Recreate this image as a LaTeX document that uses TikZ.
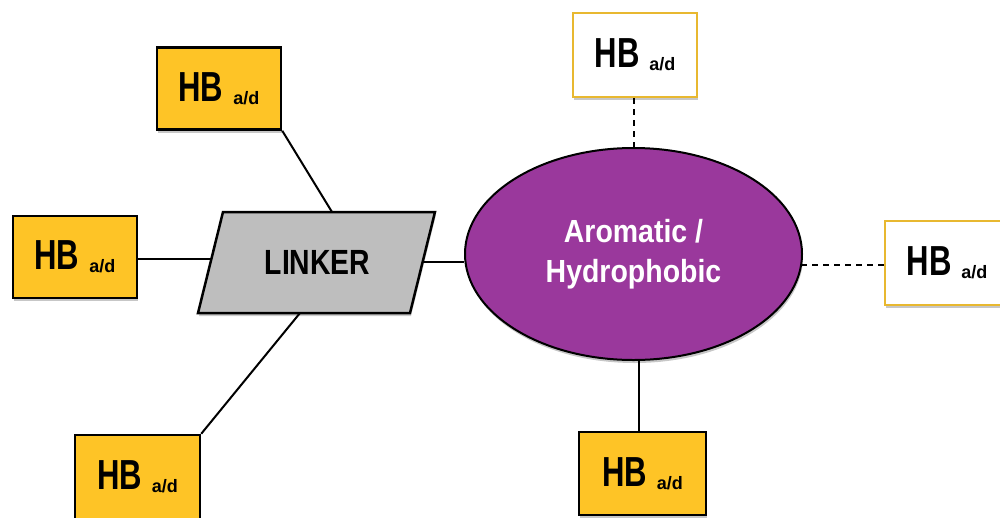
\documentclass[tikz,border=0pt]{standalone}
\usepackage{fontspec}
\setmainfont{Liberation Sans}
\usepackage{graphicx}
\usetikzlibrary{shapes.geometric,shadows}
\definecolor{hbyellow}{RGB}{254,196,38}
\definecolor{hbgold}{RGB}{232,184,48}
\definecolor{arompurple}{RGB}{154,56,156}
\definecolor{linkgray}{RGB}{190,190,190}
\newcommand{\hbtext}{\scalebox{0.74}[1]{\fontsize{42}{42}\selectfont\bfseries HB}\hspace{10pt}\raisebox{-3pt}{\fontsize{18}{18}\selectfont\bfseries a/d}}
\tikzset{
  softshadow/.style={drop shadow={shadow xshift=1pt, shadow yshift=-3pt, opacity=0.22, fill=black}},
  hbbox/.style={rectangle, draw=black, fill=hbyellow, line width=2.5pt, minimum width=124pt, minimum height=82pt, inner sep=0pt, softshadow},
  hbwhite/.style={rectangle, draw=hbgold, fill=white, line width=2.5pt, minimum width=124pt, minimum height=84pt, inner sep=0pt, softshadow},
  conn/.style={line width=2pt, black},
  dconn/.style={line width=2pt, black, dash pattern=on 6pt off 5pt},
}
\begin{document}
\begin{tikzpicture}[x=1pt,y=-1pt]
\useasboundingbox (0,0) rectangle (1000,517);
% linker parallelogram
\coordinate (l1) at (223,212);
\coordinate (l2) at (435,212);
\coordinate (l3) at (410,313);
\coordinate (l4) at (198,313);
\fill[black, opacity=0.2] ([xshift=1pt,yshift=-3pt]l1) -- ([xshift=1pt,yshift=-3pt]l2) -- ([xshift=1pt,yshift=-3pt]l3) -- ([xshift=1pt,yshift=-3pt]l4) -- cycle;
\draw[fill=linkgray, line width=2.5pt, line join=miter] (l1) -- (l2) -- (l3) -- (l4) -- cycle;
\node (linker) at (317.5,262) {\scalebox{0.81}[1]{\fontsize{35}{35}\selectfont\bfseries LINKER}};
\coordinate (c1) at (332,212);
\coordinate (c2) at (211,259);
\coordinate (c3) at (300,313);
\coordinate (c4) at (423,262);
% ellipse
\node[ellipse, draw=black, fill=arompurple, line width=2pt, minimum width=337pt, minimum height=212pt, inner sep=0pt, softshadow, text=white, align=center, font=\fontsize{32}{40}\selectfont\bfseries] (ell) at (633.5,254)
  {\scalebox{0.89}[1]{Aromatic /}\\\scalebox{0.89}[1]{Hydrophobic}};
\coordinate (c5) at (639,359.9);
\coordinate (c6) at (801,265);
% boxes
\node[hbbox] (b1) at (219,88.5) {\hbtext};
\node[hbwhite] (btop) at (635,55) {\hbtext};
\node[hbbox] (bleft) at (75,257) {\hbtext};
\node[hbwhite] (bright) at (947,263) {\hbtext};
\node[hbbox, minimum width=127pt, minimum height=83pt] (bbr) at (642.5,473.5) {\hbtext};
\node[hbbox, minimum width=125pt, minimum height=84pt] (bbl) at (137.5,477) {\hbtext};
% connectors
\draw[conn] (b1.south east) -- (c1);
\draw[conn] (c2 -| bleft.east) -- (c2);
\draw[conn] (bbl.north east) -- (c3);
\draw[conn] (c4) -- (c4 -| ell.west);
\draw[dconn] (btop.south -| ell.north) -- (ell.north);
\draw[dconn] (c6) -- (c6 -| bright.west);
\draw[conn] (c5) -- (c5 |- bbr.north);
\end{tikzpicture}
\end{document}
